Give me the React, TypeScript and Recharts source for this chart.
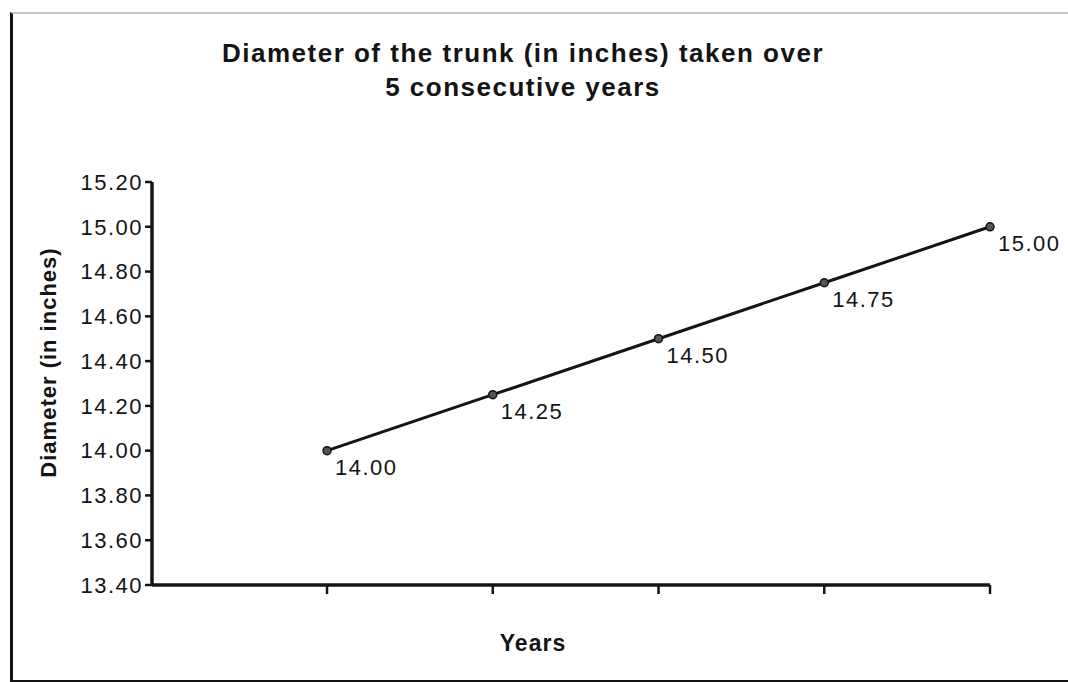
import React from 'react';
import { LineChart, Line, XAxis, YAxis, LabelList, Label } from 'recharts';

// years are plotted as 1..5 on a numeric axis (no tick labels in the original)
const years = [1, 2, 3, 4, 5];
const diameters = [14.0, 14.25, 14.5, 14.75, 15.0];
const yTicks = [13.4, 13.6, 13.8, 14.0, 14.2, 14.4, 14.6, 14.8, 15.0, 15.2];

const chartData = years.map((year, i) => ({ year, diameter: diameters[i] }));

const FONT = '"Liberation Sans", Arial, sans-serif';
const INK = '#141414';

const PointLabel = (props: any) => {
  const { x, y, value } = props;
  return (
    <text x={x + 8} y={y + 24} fontFamily={FONT} fontSize={22} letterSpacing={1.5} fill={INK} textAnchor="start">
      {Number(value).toFixed(2)}
    </text>
  );
};

const YTitle = (props: any) => {
  const { viewBox } = props;
  const cx = 48;
  const cy = viewBox.y + viewBox.height / 2 - 21;
  return (
    <text
      x={cx}
      y={cy}
      transform={`rotate(-90 ${cx} ${cy})`}
      textAnchor="middle"
      dominantBaseline="central"
      fontFamily={FONT}
      fontWeight="bold"
      fontSize={22}
      letterSpacing={1}
      fill={INK}
    >
      Diameter (in inches)
    </text>
  );
};

const XTitle = (props: any) => {
  const { viewBox } = props;
  return (
    <text
      x={533}
      y={viewBox.y + 66}
      textAnchor="middle"
      fontFamily={FONT}
      fontWeight="bold"
      fontSize={23}
      letterSpacing={1}
      fill={INK}
    >
      Years
    </text>
  );
};

const App: React.FC = () => {
  return (
    <div style={{ position: 'absolute', left: 0, top: 0, width: 1068, height: 682, background: '#fff', overflow: 'hidden' }}>
      {/* frame around the figure */}
      <div
        style={{
          position: 'absolute',
          left: 10,
          top: 12,
          width: 1080,
          height: 666,
          borderLeft: `3px solid ${INK}`,
          borderBottom: `3px solid ${INK}`,
          borderTop: '2px solid #c4c4c4',
        }}
      />
      <div
        style={{
          position: 'absolute',
          left: 0,
          top: 36,
          width: 1046,
          textAlign: 'center',
          fontFamily: FONT,
          fontWeight: 'bold',
          fontSize: 26,
          letterSpacing: 1.5,
          lineHeight: '34px',
          color: INK,
        }}
      >
        Diameter of the trunk (in inches) taken over
        <br />5 consecutive years
      </div>
      <div style={{ position: 'absolute', left: 0, top: 0 }}>
        <LineChart width={1068} height={682} data={chartData} margin={{ top: 182, right: 78, left: 0, bottom: 0 }}>
          <XAxis
            dataKey="year"
            type="number"
            domain={[-0.056, 5]}
            ticks={years}
            tickFormatter={() => ''}
            tickSize={9}
            height={97}
            axisLine={{ stroke: INK, strokeWidth: 3.5 }}
            tickLine={{ stroke: INK, strokeWidth: 2.5 }}
          >
            <Label content={<XTitle />} />
          </XAxis>
          <YAxis
            type="number"
            domain={[13.4, 15.2]}
            ticks={yTicks}
            width={152}
            tickSize={7}
            tickMargin={2}
            tickFormatter={(v: number) => v.toFixed(2)}
            tick={{ fill: INK, fontSize: 22, fontFamily: FONT, letterSpacing: 1.5 }}
            axisLine={{ stroke: INK, strokeWidth: 3.5 }}
            tickLine={{ stroke: INK, strokeWidth: 2.5 }}
            interval={0}
          >
            <Label content={<YTitle />} />
          </YAxis>
          <Line
            dataKey="diameter"
            type="linear"
            stroke={INK}
            strokeWidth={3}
            dot={{ r: 4, fill: '#555', stroke: INK, strokeWidth: 1.5 }}
            isAnimationActive={false}
          >
            <LabelList dataKey="diameter" content={<PointLabel />} />
          </Line>
        </LineChart>
      </div>
    </div>
  );
};

export default App;
